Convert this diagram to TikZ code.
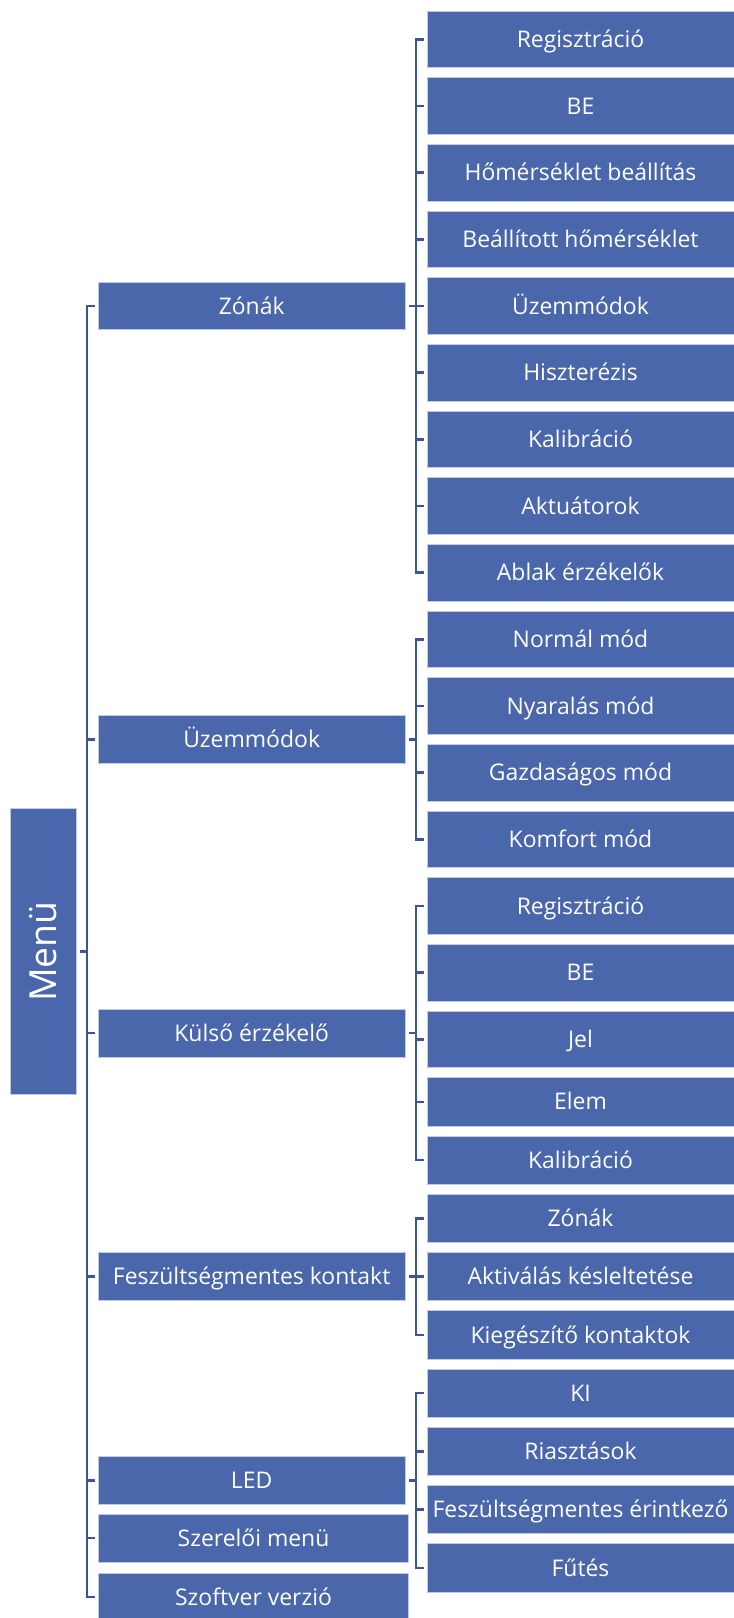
\documentclass[tikz,border=0pt]{standalone}
\usepackage{fontspec}
\usepackage{graphicx}
\setmainfont{Open Sans}
\usetikzlibrary{positioning,calc}
\definecolor{boxblue}{RGB}{74,103,172}
\definecolor{lineblue}{RGB}{59,85,150}
\tikzset{
    box/.style={
        fill=boxblue,
        draw=boxblue!35!white,
        line width=0.6pt,
        text=white,
        inner sep=0pt,
        outer sep=0pt,
        text height=12.2pt,
        text depth=0pt,
        font=\fontsize{17.2}{20}\selectfont,
    },
    subitem/.style={
        box,
        minimum width=230.25pt,
        minimum height=42.5pt,
    },
    subitem'/.style={
        box,
        minimum width=230.25pt,
        minimum height=36.2pt,
    },
    menuitem/.style={
        box,
        minimum width=230pt,
        minimum height=35.8pt,
    },
    link/.style={
        draw=lineblue,
        line width=1.8pt,
        shorten <=3pt,
        shorten >=2.25pt,
    },
}

\begin{document}
\begin{tikzpicture}[x=0.75pt, y=-0.75pt, node distance=7.5pt]
    \path[use as bounding box, clip] (0,0) rectangle (734,1618);

    \node[subitem, anchor=north west] (z1) at (427,11) {Regisztráció};
    \node[subitem, below=of z1] (z2) {BE};
    \node[subitem, below=of z2] (z3) {Hőmérséklet beállítás};
    \node[subitem, below=of z3] (z4) {Beállított hőmérséklet};
    \node[subitem, below=of z4] (z5) {Üzemmódok};
    \node[subitem, below=of z5] (z6) {Hiszterézis};
    \node[subitem, below=of z6] (z7) {Kalibráció};
    \node[subitem, below=of z7] (z8) {Aktuátorok};
    \node[subitem, below=of z8] (z9) {Ablak érzékelők};

    \node[subitem, below=of z9] (u1) {Normál mód};
    \node[subitem, below=of u1] (u2) {Nyaralás mód};
    \node[subitem, below=of u2] (u3) {Gazdaságos mód};
    \node[subitem, below=of u3] (u4) {Komfort mód};

    \node[subitem, below=of u4] (k1) {Regisztráció};
    \node[subitem, below=of k1] (k2) {BE};
    \node[subitem, below=of k2] (k3) {Jel};
    \node[subitem', below=of k3] (k4) {Elem};
    \node[subitem', below=of k4] (k5) {Kalibráció};

    \node[subitem', below=of k5] (f1) {Zónák};
    \node[subitem', below=of f1] (f2) {Aktiválás késleltetése};
    \node[subitem', below=of f2] (f3) {Kiegészítő kontaktok};

    \node[subitem', below=of f3] (l1) {KI};
    \node[subitem', below=of l1] (l2) {Riasztások};
    \node[subitem', below=of l2] (l3) {Feszültségmentes érintkező};
    \node[subitem', below=of l3] (l4) {Fűtés};

    \node[menuitem, anchor=east] (zonak) at ($(z1.west)!0.5!(z9.west) + (-22,0)$) {Zónák};
    \node[menuitem, anchor=east] (uzem) at ($(u1.west)!0.5!(u4.west) + (-22,0)$) {Üzemmódok};
    \node[menuitem, anchor=east] (kulso) at ($(k1.west)!0.5!(k5.west) + (-22,0)$) {Külső érzékelő};
    \node[menuitem, anchor=east] (fesz) at ($(f1.west)!0.5!(f3.west) + (-22,0)$) {Feszültségmentes kontakt};
    \node[menuitem, anchor=east] (led) at ($(l1.west)!0.5!(l4.west) + (-22,0)$) {LED};
    \node[menuitem, minimum width=232.8pt, below=of led.south west, anchor=north west] (szerelo) {Szerelői menü};
    \node[menuitem, minimum width=232.8pt, below=8.25pt of szerelo.south west, anchor=north west] (szoftver) {Szoftver verzió};

    \node[box, minimum width=49.2pt, minimum height=214.3pt, text height=, font=\fontsize{28}{31}\selectfont, anchor=east]
        (menu) at ($(zonak.west)!0.5!(szoftver.west) + (-22,0)$) {\rotatebox{90}{Menü}};

    \foreach \c in {zonak,uzem,kulso,fesz,led,szerelo,szoftver}
        \draw[link] (menu.east) -- ++(10.7,0) |- (\c.west);
    \foreach \i in {1,...,9}
        \draw[link] (zonak.east) -- ++(10.7,0) |- (z\i.west);
    \foreach \i in {1,...,4}
        \draw[link] (uzem.east) -- ++(10.7,0) |- (u\i.west);
    \foreach \i in {1,...,5}
        \draw[link] (kulso.east) -- ++(10.7,0) |- (k\i.west);
    \foreach \i in {1,...,3}
        \draw[link] (fesz.east) -- ++(10.7,0) |- (f\i.west);
    \foreach \i in {1,...,4}
        \draw[link] (led.east) -- ++(10.7,0) |- (l\i.west);
\end{tikzpicture}
\end{document}
